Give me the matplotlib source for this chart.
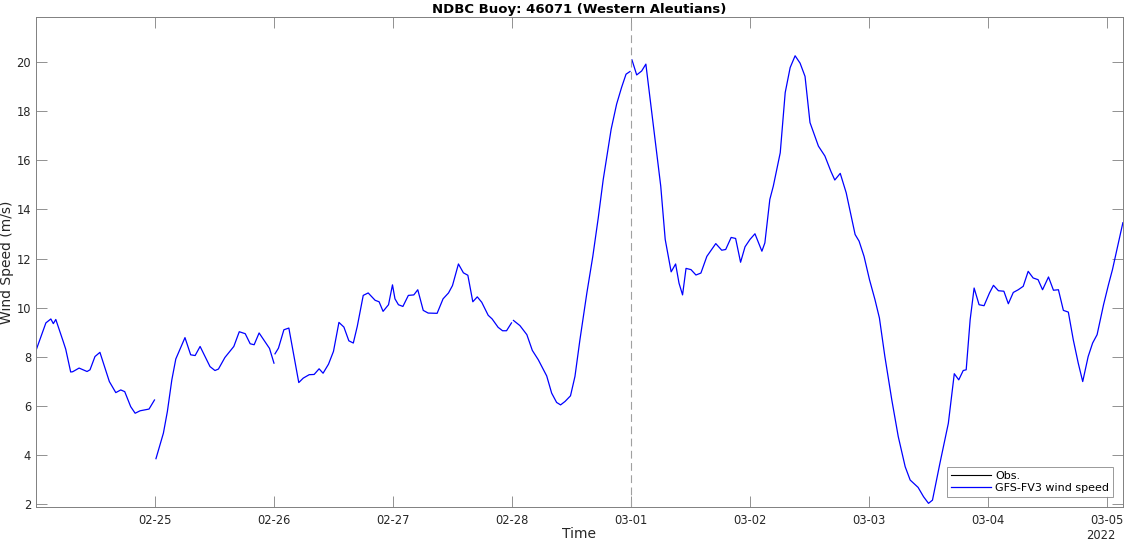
import numpy as np
import matplotlib
matplotlib.use('Agg')
import matplotlib.pyplot as plt
import matplotlib.dates as mdates

# GFS-FV3 wind speed, hours after 2022-02-24 00:00, one list per forecast cycle
t_a = [0.1, 2.0, 3.0, 3.5, 4.0, 5.5, 6.0, 7.0, 7.4, 8.7, 10.3, 10.9, 11.9, 12.9,
       14.8, 16.1, 17.1, 17.9, 19.1, 20.0, 21.0, 22.8, 23.9]
ws_a = [8.31, 9.38, 9.54, 9.35, 9.52, 8.62, 8.31, 7.38, 7.39, 7.54, 7.40, 7.47, 8.01, 8.18,
        6.99, 6.54, 6.65, 6.58, 5.97, 5.70, 5.80, 5.87, 6.24]

t_b = [24.2, 25.7, 26.5, 27.4, 28.2, 30.05, 31.2, 32.1, 33.1, 35.1, 36.1, 36.8, 38.1,
       39.9, 41.0, 42.2, 43.2, 44.0, 45.0, 47.1, 48.0]
ws_b = [3.85, 4.89, 5.77, 7.06, 7.91, 8.78, 8.08, 8.05, 8.42, 7.60, 7.44, 7.50, 7.97,
        8.42, 9.02, 8.94, 8.53, 8.49, 8.97, 8.34, 7.74]

t_c = [48.2, 48.9, 50.0, 51.0, 53.0, 53.9, 55.1, 56.1, 57.1, 57.9, 59.0, 60.0, 61.1,
       62.1, 63.1, 64.0, 64.8, 66.0, 67.0, 68.4, 69.2, 70.0, 71.1, 71.9, 72.4, 73.1,
       74.0, 75.1, 76.2, 77.0, 78.1, 79.1, 80.9, 82.1, 83.2, 84.0, 85.2, 86.2, 87.1,
       88.1, 89.0, 89.9, 91.2, 92.0, 93.2, 94.1, 94.9, 95.9]
ws_c = [8.12, 8.35, 9.10, 9.17, 6.95, 7.13, 7.27, 7.28, 7.51, 7.33, 7.70, 8.22, 9.40,
        9.21, 8.65, 8.56, 9.24, 10.50, 10.60, 10.30, 10.24, 9.85, 10.12, 10.93, 10.36, 10.12,
        10.05, 10.50, 10.52, 10.73, 9.89, 9.78, 9.77, 10.36, 10.60, 10.90, 11.78, 11.42, 11.32,
        10.24, 10.44, 10.22, 9.69, 9.54, 9.20, 9.06, 9.06, 9.38]

t_d = [96.3, 97.6, 99.0, 100.1, 101.3, 103.0, 104.0, 105.0, 105.8, 106.7, 107.8, 108.7,
       109.7, 111.1, 112.3, 113.4, 114.4, 116.0, 117.1, 118.1, 119.0, 119.8]
ws_d = [9.48, 9.27, 8.90, 8.26, 7.88, 7.22, 6.52, 6.14, 6.04, 6.18, 6.41, 7.20,
        8.69, 10.60, 12.09, 13.66, 15.22, 17.27, 18.29, 18.97, 19.51, 19.62]

t_e = [120.2, 121.15, 122.16, 123.0, 124.6, 126.0, 126.9, 128.1, 129.0, 129.7, 130.4,
       131.1, 132.1, 133.1, 134.1, 135.3, 137.1, 138.3, 139.1, 140.2, 141.1, 142.1, 143.0,
       144.0, 145.0, 146.4, 147.0, 148.0, 148.7, 150.1, 151.1, 152.1, 153.1, 154.1, 155.1,
       156.1, 157.8, 159.1, 160.3, 161.1, 162.2, 163.4, 165.2, 166.0, 167.0, 168.1, 169.2,
       170.1, 171.2, 172.6, 173.9, 175.3, 176.3, 177.9, 179.0, 180.0, 180.8, 182.3, 184.0,
       185.2, 186.1, 187.0, 187.6, 188.4, 189.2, 190.2, 191.2, 192.3, 193.1, 194.1, 195.2,
       196.1, 197.1, 198.1, 199.1, 200.1, 201.1, 202.1, 203.0, 204.2, 205.2, 206.2, 207.2,
       208.2, 209.2, 210.2, 211.1, 212.2, 213.1, 214.0, 215.3, 216.3, 217.1, 218.0, 219.2]
ws_e = [20.09, 19.48, 19.64, 19.92, 17.27, 14.95, 12.78, 11.46, 11.78, 11.00, 10.52,
        11.60, 11.55, 11.33, 11.41, 12.09, 12.61, 12.34, 12.37, 12.86, 12.82, 11.85, 12.48,
        12.78, 13.01, 12.30, 12.64, 14.41, 14.95, 16.31, 18.76, 19.78, 20.26, 19.96, 19.42,
        17.54, 16.58, 16.18, 15.56, 15.20, 15.47, 14.68, 12.98, 12.71, 12.09, 11.14, 10.33,
        9.58, 8.01, 6.24, 4.75, 3.52, 2.98, 2.68, 2.30, 2.03, 2.16, 3.66, 5.29,
        7.31, 7.06, 7.44, 7.47, 9.51, 10.80, 10.12, 10.08, 10.60, 10.91, 10.69, 10.67,
        10.16, 10.62, 10.73, 10.87, 11.48, 11.21, 11.14, 10.73, 11.25, 10.71, 10.73, 9.89,
        9.82, 8.69, 7.74, 6.99, 8.01, 8.56, 8.90, 10.12, 10.94, 11.55, 12.37, 13.46]

segments = [(t_a, ws_a), (t_b, ws_b), (t_c, ws_c), (t_d, ws_d), (t_e, ws_e)]
t0 = np.datetime64('2022-02-24T00:00')
analysis_time = np.datetime64('2022-03-01T00:00')
tick_days = np.arange(np.datetime64('2022-02-25'), np.datetime64('2022-03-06'))


def to_time(hours):
    return t0 + (np.array(hours) * 60).astype('timedelta64[m]')


plt.rcParams['font.family'] = 'DejaVu Sans'

fig = plt.figure(figsize=(11.24, 5.41), dpi=100)
ax = fig.add_axes([0.032, 0.0628, 0.967, 0.9058])

gray = '#262626'
ax.plot([], [], color='k', lw=0.8, label='Obs.')
for i, (t, ws) in enumerate(segments):
    ax.plot(to_time(t), ws, color='b', lw=0.9,
            label='GFS-FV3 wind speed' if i == 0 else None)

ax.axvline(analysis_time, color='#a0a0a0', ls=(0, (7, 4)), lw=0.8)

ax.set_xlim(to_time([0])[0], to_time([219.2])[0])
ax.set_ylim(1.88, 21.84)
ax.set_yticks(np.arange(2, 21, 2))
ax.set_xticks(tick_days)
ax.xaxis.set_major_formatter(mdates.DateFormatter('%m-%d'))

ax.tick_params(direction='in', length=8, width=0.6, colors='#808080',
               labelcolor=gray, top=True, right=True, labelsize=8.3)
ax.tick_params(axis='x', pad=5)
for s in ax.spines.values():
    s.set_color('#808080')
    s.set_linewidth(0.7)

ax.set_title('NDBC Buoy: 46071 (Western Aleutians)', fontsize=9.5,
             fontweight='bold', pad=3)
ax.set_xlabel('Time', fontsize=10, color=gray, labelpad=0)
ax.set_ylabel('Wind Speed (m/s)', fontsize=10, color=gray, labelpad=2)
ax.text(0.9935, -0.045, '2022', transform=ax.transAxes, ha='right', va='top',
        fontsize=8.3, color=gray)

leg = ax.legend(loc='lower right', fontsize=8, frameon=True, fancybox=False,
                edgecolor='#808080', handlelength=3.6, borderaxespad=0.9,
                labelspacing=0.2, borderpad=0.35, handletextpad=0.4)
leg.get_frame().set_linewidth(0.7)

fig.savefig('out.png', dpi=100)
